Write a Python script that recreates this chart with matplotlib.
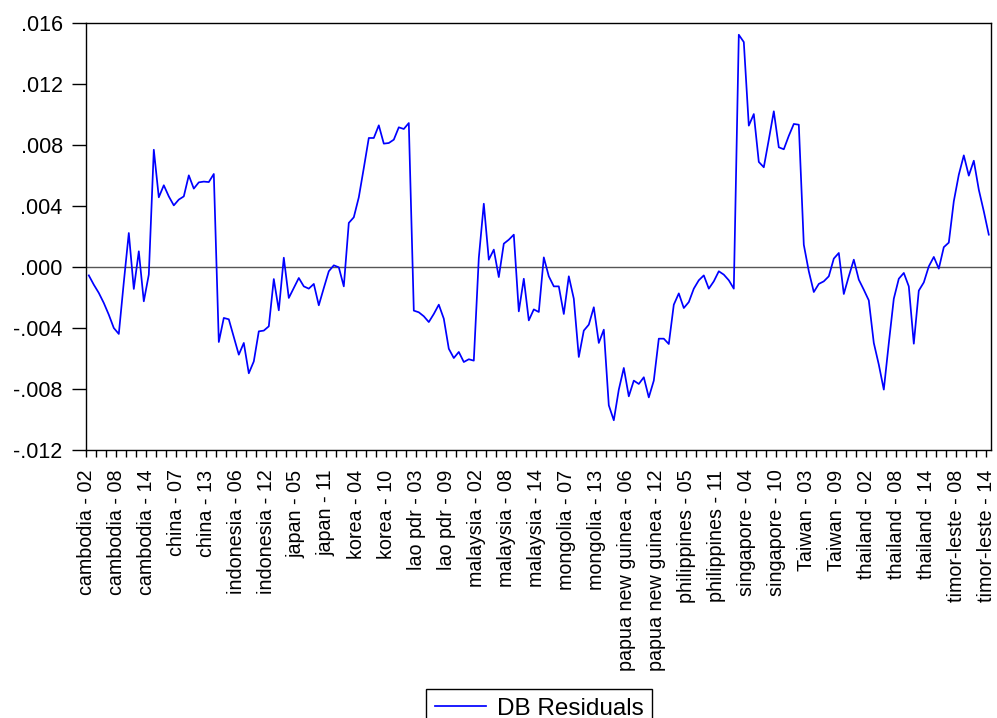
import numpy as np
import matplotlib
matplotlib.use("Agg")
import matplotlib.pyplot as plt
from matplotlib.ticker import FixedLocator, FuncFormatter

plt.rcParams['font.family'] = ['Liberation Sans', 'DejaVu Sans']

# ---- data -------------------------------------------------------------
countries = ["cambodia", "china", "indonesia", "japan", "korea", "lao pdr",
             "malaysia", "mongolia", "papua new guinea", "philippines",
             "singapore", "Taiwan", "thailand", "timor-leste"]
first_year = [2, 2, 2, 2, 2, 2, 2, 2, 2, 2, 2, 2, 2, 3]
last_year = [14] * 14

# DB residuals (in units of 1e-3), panel order country / year
residuals_e3 = [
    -0.55, -1.16, -1.70, -2.36, -3.13, -4.00, -4.39, -1.00, 2.23, -1.44,
    1.03, -2.25, -0.50, 7.69, 4.57, 5.36, 4.63, 4.04, 4.42, 4.63,
    6.01, 5.14, 5.55, 5.60, 5.57, 6.10, -4.92, -3.34, -3.43, -4.60,
    -5.75, -4.98, -6.97, -6.19, -4.22, -4.17, -3.89, -0.79, -2.84, 0.61,
    -2.03, -1.38, -0.72, -1.27, -1.42, -1.11, -2.51, -1.38, -0.28, 0.11,
    -0.02, -1.27, 2.89, 3.26, 4.57, 6.49, 8.46, 8.46, 9.29, 8.09,
    8.13, 8.35, 9.16, 9.05, 9.44, -2.86, -2.97, -3.23, -3.61, -3.08,
    -2.47, -3.39, -5.36, -5.97, -5.57, -6.23, -6.05, -6.14, 0.59, 4.15,
    0.48, 1.14, -0.66, 1.53, 1.79, 2.12, -2.91, -0.77, -3.50, -2.78,
    -2.95, 0.63, -0.61, -1.27, -1.27, -3.08, -0.61, -2.08, -5.90, -4.17,
    -3.78, -2.64, -4.98, -4.11, -9.07, -10.05, -8.04, -6.62, -8.48, -7.45,
    -7.67, -7.23, -8.55, -7.45, -4.70, -4.70, -5.05, -2.47, -1.73, -2.69,
    -2.30, -1.42, -0.87, -0.55, -1.42, -0.94, -0.28, -0.50, -0.87, -1.42,
    15.23, 14.75, 9.27, 10.03, 6.89, 6.54, 8.35, 10.21, 7.85, 7.72,
    8.60, 9.38, 9.33, 1.46, -0.28, -1.64, -1.11, -0.94, -0.61, 0.55,
    0.92, -1.77, -0.61, 0.48, -0.83, -1.49, -2.19, -4.98, -6.40, -8.04,
    -5.00, -2.08, -0.77, -0.39, -1.27, -5.03, -1.55, -1.01, 0.04, 0.66,
    -0.11, 1.30, 1.60, 4.31, 6.05, 7.32, 5.99, 6.97, 5.07, 3.65,
    2.12,
]
series_name = "DB Residuals"
y_ticks = [-0.012, -0.008, -0.004, 0.0, 0.004, 0.008, 0.012, 0.016]
label_step = 6
minor_step = 2

# ---- build observation labels ----------------------------------------
obs_labels = []
for c, y0, y1 in zip(countries, first_year, last_year):
    for yr in range(y0, y1 + 1):
        obs_labels.append(f"{c} - {yr:02d}")

resid = np.array(residuals_e3) * 1e-3
n = len(resid)
x = np.arange(n)

# ---- figure -------------------------------------------------------------
fig = plt.figure(figsize=(9.97, 7.18), dpi=100)
ax = fig.add_axes([86.3 / 997, 1 - 450 / 718, (991.3 - 86.3) / 997, (450 - 23) / 718])

ax.axhline(0, color="#555555", lw=1.0, zorder=1)
line, = ax.plot(x, resid, color="#0000FF", lw=1.25, zorder=2, label=series_name)

ax.set_xlim(-0.5, n - 0.5)
ax.set_ylim(y_ticks[0], y_ticks[-1])

# x ticks: sit at the left boundary of each observation
major_idx = list(range(0, n, label_step))
ax.xaxis.set_major_locator(FixedLocator([i - 0.5 for i in major_idx]))
ax.set_xticklabels([obs_labels[i] for i in major_idx], rotation=90,
                   fontsize=14.2)
ax.xaxis.set_minor_locator(FixedLocator([i - 0.5 for i in range(0, n, minor_step)]))
ax.tick_params(axis="x", which="both", direction="out", length=5, width=1,
               pad=9, bottom=True, top=False)

ax.yaxis.set_major_locator(FixedLocator(y_ticks))


def fmt(v, pos):
    s = f"{v:.3f}"
    if s.startswith("-0"):
        s = "-" + s[2:]
    elif s.startswith("0"):
        s = s[1:]
    return s


ax.yaxis.set_major_formatter(FuncFormatter(fmt))
ax.tick_params(axis="y", which="both", direction="out", length=10, width=1,
               pad=7, labelsize=15.5, left=True, right=False)

for sp in ax.spines.values():
    sp.set_linewidth(1.0)
    sp.set_color("black")

leg = fig.legend(handles=[line], loc="upper center",
                 bbox_to_anchor=(539 / 997, 1 - 689 / 718),
                 bbox_transform=fig.transFigure, borderaxespad=0,
                 fontsize=17.5, frameon=True, fancybox=False, shadow=False,
                 handlelength=2.1, handletextpad=0.45, borderpad=0.35,
                 framealpha=1)
leg.get_frame().set_edgecolor("black")
leg.get_frame().set_linewidth(1.0)

fig.savefig("out.png", dpi=100)
